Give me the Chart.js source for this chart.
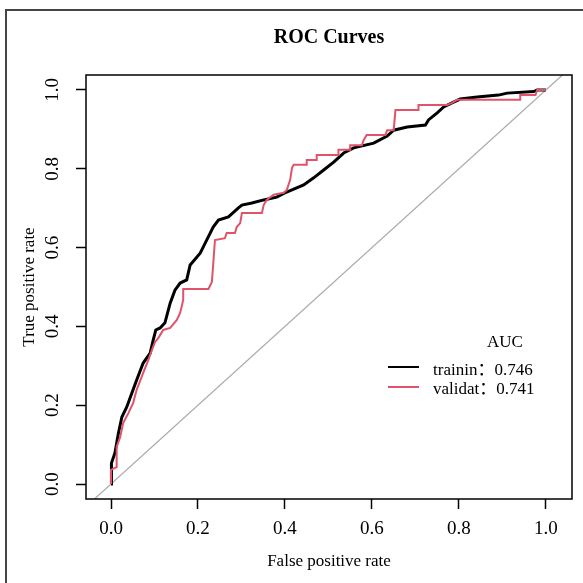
<!DOCTYPE html>
<html>
<head>
<meta charset="utf-8">
<script src="https://cdn.jsdelivr.net/npm/chart.js@4.4.1/dist/chart.umd.min.js"></script>
<style>
  html, body { margin: 0; padding: 0; background: #fff; }
  canvas { display: block; }
</style>
</head>
<body>
<canvas id="rocChart" width="583" height="583"></canvas>
<script>
// curva de treino (preta)
const trainFpr = [0, 0, 0.002, 0.009, 0.017, 0.025, 0.036, 0.048, 0.059, 0.074, 0.090, 0.097, 0.103, 0.113, 0.124,
  0.136, 0.147, 0.159, 0.174, 0.182, 0.205, 0.220, 0.235, 0.247, 0.270, 0.293, 0.301, 0.324, 0.351, 0.381,
  0.404, 0.443, 0.466, 0.489, 0.512, 0.535, 0.558, 0.604, 0.635, 0.650, 0.681, 0.723, 0.730, 0.750, 0.765,
  0.784, 0.803, 0.842, 0.891, 0.911, 0.972, 0.980, 1.0];
const trainTpr = [0, 0.020, 0.053, 0.079, 0.129, 0.170, 0.195, 0.231, 0.264, 0.307, 0.332, 0.365, 0.391, 0.396, 0.409,
  0.459, 0.492, 0.510, 0.518, 0.556, 0.586, 0.619, 0.652, 0.670, 0.678, 0.701, 0.708, 0.713, 0.721, 0.728,
  0.741, 0.759, 0.777, 0.797, 0.817, 0.840, 0.853, 0.865, 0.883, 0.898, 0.906, 0.911, 0.924, 0.942, 0.957,
  0.967, 0.977, 0.982, 0.987, 0.992, 0.996, 1.0, 1.0];

// curva de validacao (vermelha)
const validFpr = [0, 0, 0.013, 0.013, 0.021, 0.028, 0.040, 0.051, 0.059, 0.074, 0.086, 0.094, 0.101, 0.109, 0.120,
  0.136, 0.151, 0.159, 0.166, 0.166, 0.224, 0.232, 0.239, 0.262, 0.266, 0.285, 0.289, 0.297, 0.301, 0.347,
  0.351, 0.358, 0.374, 0.397, 0.404, 0.412, 0.416, 0.420, 0.450, 0.450, 0.473, 0.473, 0.523, 0.523, 0.550,
  0.550, 0.577, 0.581, 0.588, 0.631, 0.635, 0.650, 0.654, 0.707, 0.707, 0.773, 0.784, 0.796, 0.941, 0.941,
  0.976, 0.980, 1.0];
const validTpr = [0, 0.036, 0.043, 0.094, 0.119, 0.155, 0.180, 0.206, 0.239, 0.282, 0.315, 0.340, 0.360, 0.371, 0.391,
  0.396, 0.416, 0.434, 0.467, 0.495, 0.495, 0.513, 0.619, 0.624, 0.637, 0.637, 0.652, 0.662, 0.688, 0.688,
  0.708, 0.721, 0.734, 0.739, 0.746, 0.772, 0.802, 0.810, 0.810, 0.822, 0.822, 0.835, 0.835, 0.848, 0.848,
  0.860, 0.860, 0.873, 0.886, 0.886, 0.898, 0.898, 0.949, 0.949, 0.962, 0.962, 0.967, 0.975, 0.975, 0.987,
  0.987, 1.0, 1.0];

// linha de referencia y = x
const diagLine = [-0.038, 1.038];

const seriesNames = ['trainin', 'validat'];
const aucValues = ['0.746', '0.741'];
const tickValues = [0, 0.2, 0.4, 0.6, 0.8, 1.0];

const serif = '"Liberation Serif", "Noto Sans CJK SC", serif';

function pares(xs, ys) {
  return xs.map((x, i) => ({ x: x, y: ys[i] }));
}

const molduraPlugin = {
  id: 'moldura',
  beforeDraw(chart) {
    const c = chart.ctx;
    c.save();
    c.fillStyle = '#fff';
    c.fillRect(0, 0, chart.width, chart.height);
    c.restore();
  },
  afterDraw(chart) {
    const c = chart.ctx;
    const a = chart.chartArea;
    const yScale = chart.scales.y;
    c.save();

    // caixa do grafico
    c.strokeStyle = '#000';
    c.lineWidth = 1.5;
    c.strokeRect(a.left, a.top, a.right - a.left, a.bottom - a.top);

    // moldura externa
    c.strokeStyle = '#444';
    c.lineWidth = 2;
    c.beginPath();
    c.moveTo(6, chart.height + 5);
    c.lineTo(6, 10);
    c.lineTo(chart.width + 5, 10);
    c.stroke();

    // rotulos do eixo y (girados)
    c.fillStyle = '#000';
    c.font = '19px ' + serif;
    c.textAlign = 'center';
    c.textBaseline = 'middle';
    tickValues.forEach(v => {
      c.save();
      c.translate(53, yScale.getPixelForValue(v));
      c.rotate(-Math.PI / 2);
      c.fillText(v.toFixed(1), 0, 0);
      c.restore();
    });

    // legenda
    c.textAlign = 'left';
    c.textBaseline = 'alphabetic';
    c.font = '17px ' + serif;
    c.fillText('AUC', 487, 347);
    const cores = ['#000', '#DF536B'];
    seriesNames.forEach((nome, i) => {
      const yy = 367 + i * 20;
      c.strokeStyle = cores[i];
      c.lineWidth = 2;
      c.beginPath();
      c.moveTo(388, yy);
      c.lineTo(419, yy);
      c.stroke();
      c.fillText(nome + '\uFF1A' + aucValues[i], 433, 375 + i * 19);
    });
    c.restore();
  }
};

const ctx = document.getElementById('rocChart').getContext('2d');

const grafico = new Chart(ctx, {
  type: 'scatter',
  data: {
    datasets: [
      {
        label: seriesNames[1],
        data: pares(validFpr, validTpr),
        showLine: true,
        borderColor: '#DF536B',
        borderWidth: 2,
        pointRadius: 0,
        order: 0
      },
      {
        label: seriesNames[0],
        data: pares(trainFpr, trainTpr),
        showLine: true,
        borderColor: '#000',
        borderWidth: 3,
        pointRadius: 0,
        order: 1
      },
      {
        label: 'ref',
        data: pares(diagLine, diagLine),
        showLine: true,
        borderColor: '#ABABAB',
        borderWidth: 1.2,
        pointRadius: 0,
        order: 2
      }
    ]
  },
  options: {
    responsive: false,
    animation: false,
    layout: { padding: { top: 0, right: 11, bottom: 0, left: 0 } },
    plugins: {
      legend: { display: false },
      tooltip: { enabled: false },
      title: {
        display: true,
        text: 'ROC Curves',
        fullSize: false,
        color: '#000',
        font: { family: serif, size: 20, weight: 'bold' },
        padding: { top: 26, bottom: 25 }
      }
    },
    scales: {
      x: {
        type: 'linear',
        min: -0.0575,
        max: 1.06,
        afterFit: (s) => { s.height = 84; },
        afterBuildTicks: (s) => { s.ticks = tickValues.map(v => ({ value: v })); },
        grid: { display: true, drawOnChartArea: false, tickLength: 10, tickColor: '#000', tickWidth: 1.5 },
        border: { display: false },
        ticks: {
          color: '#000',
          font: { family: serif, size: 19 },
          padding: 9,
          maxRotation: 0,
          callback: (v) => v.toFixed(1)
        },
        title: {
          display: true,
          text: 'False positive rate',
          color: '#000',
          font: { family: serif, size: 17 },
          padding: { top: 0, bottom: 11 }
        }
      },
      y: {
        type: 'linear',
        min: -0.038,
        max: 1.038,
        afterFit: (s) => { s.width = 86; },
        afterBuildTicks: (s) => { s.ticks = tickValues.map(v => ({ value: v })); },
        grid: { display: true, drawOnChartArea: false, tickLength: 10, tickColor: '#000', tickWidth: 1.5 },
        border: { display: false },
        ticks: { display: false },
        title: {
          display: true,
          text: 'True positive rate',
          color: '#000',
          font: { family: serif, size: 17 },
          padding: { top: 19, bottom: 0 }
        }
      }
    }
  },
  plugins: [molduraPlugin]
});
</script>
</body>
</html>
